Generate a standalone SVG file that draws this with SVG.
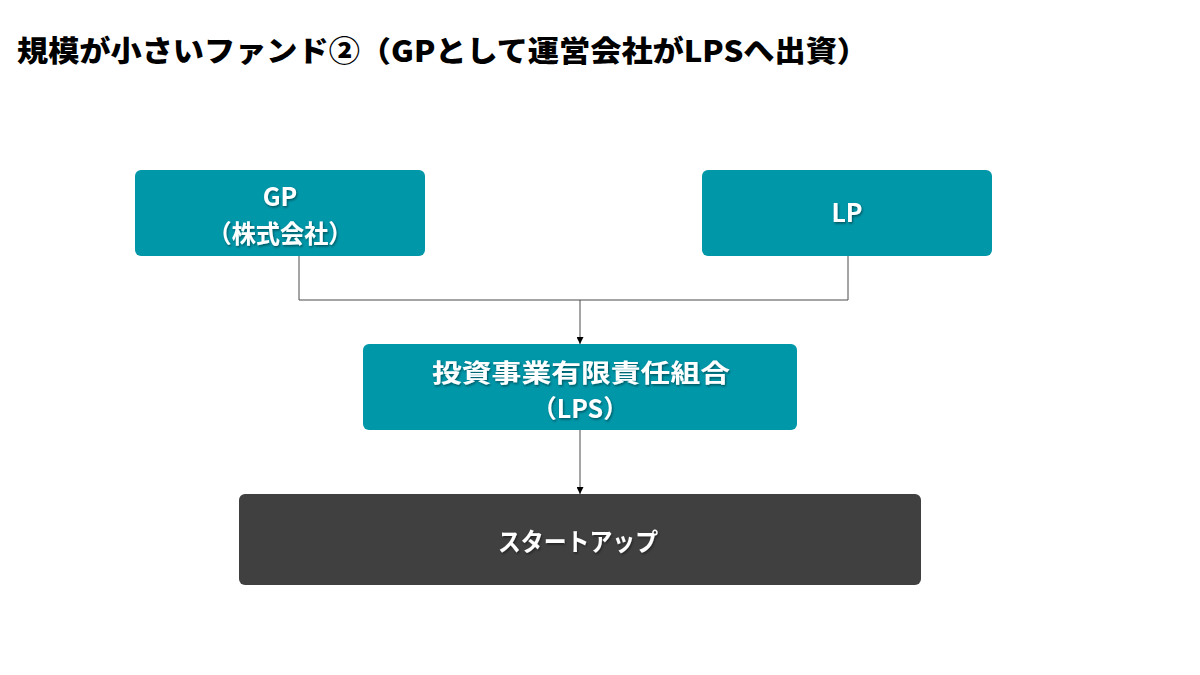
<svg xmlns="http://www.w3.org/2000/svg" width="1200" height="675" viewBox="0 0 1200 675">
<defs>
<style>
.title{font-family:"Noto Sans CJK JP","Noto Sans",sans-serif;font-weight:900;font-size:29px;fill:#000}
.lbl{font-family:"Noto Sans CJK JP","Noto Sans",sans-serif;font-weight:bold;font-size:25px;fill:#fff;text-anchor:middle;filter:url(#sh)}
.teal{fill:#0097A9}
.dark{fill:#404040}
.conn{fill:none;stroke:#4a4a4a;stroke-width:1}
</style>
<filter id="sh" x="-10%" y="-30%" width="120%" height="160%">
<feDropShadow dx="1" dy="1.5" stdDeviation="0.8" flood-color="#000" flood-opacity="0.45"/>
</filter>
<marker id="arr" viewBox="0 0 10 10" refX="10" refY="5" markerWidth="7" markerHeight="7" markerUnits="userSpaceOnUse" orient="auto">
<path d="M0,0 L10,5 L0,10 z" fill="#000"/>
</marker>
</defs>
<rect width="1200" height="675" fill="#fff"/>
<text class="title" x="17" y="62" textLength="851" lengthAdjust="spacingAndGlyphs">規模が小さいファンド②（GPとして運営会社がLPSへ出資）</text>
<g id="connectors">
<path class="conn" d="M299,256 V300 H848 V256"/>
<path class="conn" d="M580,300 V344" marker-end="url(#arr)"/>
<path class="conn" d="M580,430 V494" marker-end="url(#arr)"/>
</g>
<g id="gp">
<rect class="teal" x="135" y="170" width="290" height="86" rx="6"/>
<text class="lbl" x="280" y="206">GP</text>
<text class="lbl" x="280" y="243" textLength="145" lengthAdjust="spacingAndGlyphs">（株式会社）</text>
</g>
<g id="lp">
<rect class="teal" x="702" y="170" width="290" height="86" rx="6"/>
<text class="lbl" x="847" y="222">LP</text>
</g>
<g id="lps">
<rect class="teal" x="363" y="344" width="434" height="86" rx="6"/>
<text class="lbl" x="581" y="382" textLength="298" lengthAdjust="spacingAndGlyphs">投資事業有限責任組合</text>
<text class="lbl" x="580" y="418">（LPS）</text>
</g>
<g id="startup">
<rect class="dark" x="239" y="494" width="682" height="91" rx="6"/>
<text class="lbl" x="578" y="551" textLength="160" lengthAdjust="spacingAndGlyphs">スタートアップ</text>
</g>
</svg>
